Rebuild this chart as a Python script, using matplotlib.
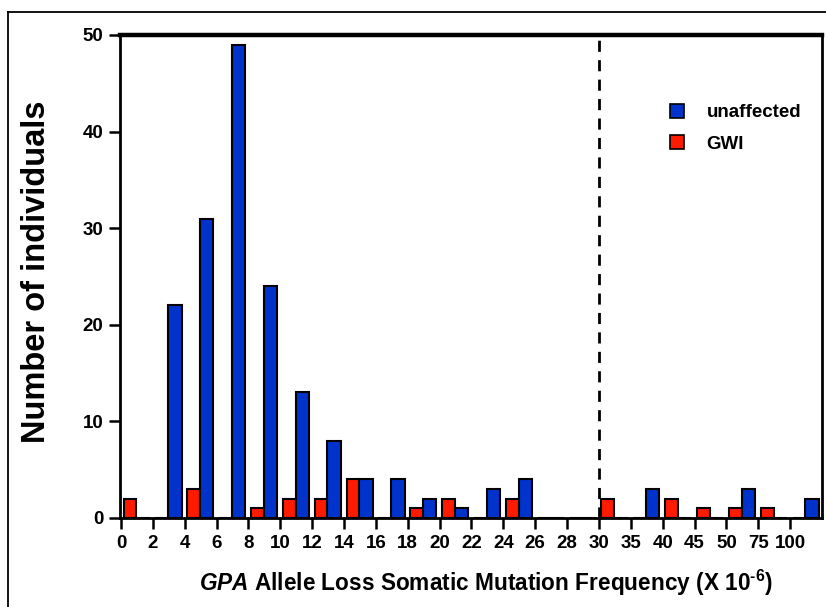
import matplotlib
matplotlib.use('Agg')
import matplotlib.pyplot as plt
from matplotlib.lines import Line2D
import numpy as np

plt.rcParams['font.family'] = 'Liberation Sans'
plt.rcParams['font.weight'] = 'bold'
plt.rcParams['mathtext.fontset'] = 'custom'
plt.rcParams['mathtext.rm'] = 'Liberation Sans:bold'
plt.rcParams['mathtext.it'] = 'Liberation Sans:italic:bold'
plt.rcParams['mathtext.bf'] = 'Liberation Sans:bold'

# bin edges shown as tick labels (categorical, unequal widths)
tickLabels = ['0', '2', '4', '6', '8', '10', '12', '14', '16', '18', '20', '22',
              '24', '26', '28', '30', '35', '40', '45', '50', '75', '100']
# counts per bin (bin i lies between tick i and tick i+1, last bin is >100)
unaffected = [0, 22, 31, 49, 24, 13, 8, 4, 4, 2, 1, 3, 4, 0, 0, 0, 3, 0, 0, 3, 0, 2]
gwi        = [2, 0, 3, 0, 1, 2, 2, 4, 0, 1, 2, 0, 2, 0, 0, 2, 0, 2, 1, 1, 1, 0]
cutoff = '30'

blue = '#0033cc'
red = '#ff1a00'

fig = plt.figure(figsize=(8.26, 6.07), dpi=100)
ax = fig.add_axes([120/826, 1-518/607, 702/826, (518-35)/607])

idx = np.arange(len(unaffected))
ax.bar(idx + 0.28, gwi, width=0.40, color=red, edgecolor='black', linewidth=1.5, zorder=3)
ax.bar(idx + 0.69, unaffected, width=0.42, color=blue, edgecolor='black', linewidth=1.5, zorder=3)

ax.axvline(tickLabels.index(cutoff), color='black', linestyle=(0, (4, 3)), linewidth=2, zorder=2)

ax.set_xlim(-0.03, len(unaffected))
ax.set_ylim(0, 50)
ax.set_xticks(np.arange(len(tickLabels)))
ax.set_xticklabels(tickLabels)
ax.set_yticks([0, 10, 20, 30, 40, 50])
ax.tick_params(axis='both', direction='out', length=8, width=1.8, labelsize=13.5, pad=4)

for side in ['left', 'bottom', 'right']:
  ax.spines[side].set_linewidth(2)
ax.spines['top'].set_linewidth(3.2)

ax.set_ylabel('Number of individuals', fontsize=23.5, fontweight='bold')
ax.yaxis.set_label_coords(-0.097, 0.51)
ax.set_xlabel(r'$\mathit{GPA}$ Allele Loss Somatic Mutation Frequency (X 10$^{\text{-6}}$)',
              fontsize=16.3, fontweight='bold')
ax.xaxis.set_label_coords(0.522, -0.104)

handles = [plt.Rectangle((0, 0), 1, 1, facecolor=blue, edgecolor='black', linewidth=1.2),
           plt.Rectangle((0, 0), 1, 1, facecolor=red, edgecolor='black', linewidth=1.2)]
fig.legend(handles, ['unaffected', 'GWI'], loc='upper left', bbox_to_anchor=(670/826, 1-104/607),
           frameon=False, fontsize=13.5, handlelength=0.75, handleheight=0.75,
           handletextpad=1.2, labelspacing=0.75, borderpad=0, borderaxespad=0)

# outer frame of the original figure panel
fig.add_artist(Line2D([8/826, 8/826], [0, 1-12/607], transform=fig.transFigure, color='black', linewidth=1.3))
fig.add_artist(Line2D([8/826, 1], [1-12/607, 1-12/607], transform=fig.transFigure, color='black', linewidth=1.3))

fig.savefig('out.png', dpi=100)
